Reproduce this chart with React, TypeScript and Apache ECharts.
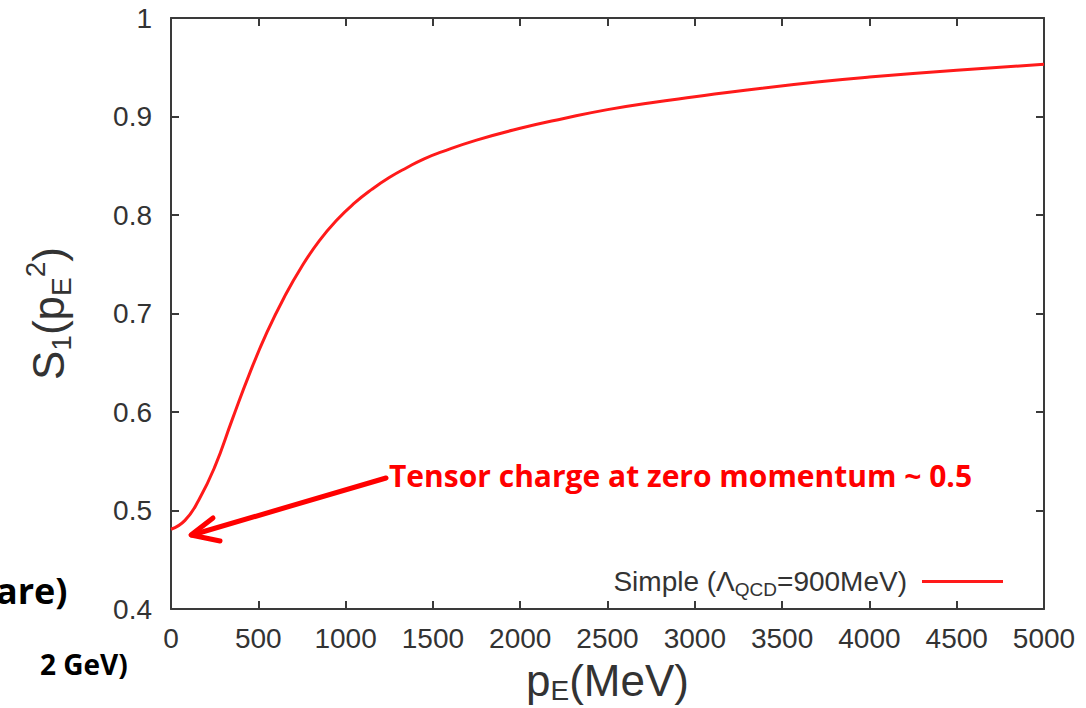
import React, { useEffect, useRef } from "react";
import * as echarts from "echarts";

const momentum = [0, 80, 160, 250, 350, 450, 550, 650, 750, 850, 950, 1050, 1150, 1250, 1350, 1450, 1550, 1750, 2000, 2250, 2500, 2750, 3000, 3300, 3700, 4000, 4500, 5000];
const s1Values = [0.481, 0.49, 0.511, 0.544, 0.592, 0.639, 0.681, 0.717, 0.748, 0.774, 0.795, 0.812, 0.826, 0.838, 0.848, 0.857, 0.864, 0.876, 0.888, 0.898, 0.907, 0.914, 0.92, 0.927, 0.935, 0.94, 0.947, 0.953];
const xTicks = [0, 500, 1000, 1500, 2000, 2500, 3000, 3500, 4000, 4500, 5000];
const yTicks = [0.4, 0.5, 0.6, 0.7, 0.8, 0.9, 1];
const seriesName = "Simple (ΛQCD=900MeV)";
const annotationText = "Tensor charge at zero momentum ~ 0.5";

const AXIS_COLOR = "#3a3a3a";
const LABEL_FONT = "'Liberation Sans', Arial, sans-serif";
const RED = "#ff1a1a";
const BOLD_FONT = "'Open Sans', 'Noto Sans', sans-serif";

function mkLine() {
  return { show: true, onZero: false, lineStyle: { color: AXIS_COLOR, width: 2 } };
}
function mkTick() {
  return { show: true, inside: true, length: 8, lineStyle: { color: AXIS_COLOR, width: 2 } };
}

export default function App() {
  const ref = useRef<HTMLDivElement>(null);
  useEffect(() => {
    if (!ref.current) return;
    const chart = echarts.init(ref.current, null, { renderer: "svg" });
    const data = momentum.map((p, i) => [p, s1Values[i]]);
    const xMin = xTicks[0];
    const xMax = xTicks[xTicks.length - 1];
    const yMin = yTicks[0];
    const yMax = yTicks[yTicks.length - 1];
    chart.setOption({
      animation: false,
      backgroundColor: "#ffffff",
      grid: { left: 171, right: 42, top: 18, bottom: 99, containLabel: false, outerBoundsMode: "none" },
      xAxis: [
        {
          type: "value",
          min: xMin,
          max: xMax,
          interval: 500,
          position: "bottom",
          splitLine: { show: false },
          axisLine: mkLine(),
          axisTick: mkTick(),
          axisLabel: { show: true, color: "#333", fontFamily: LABEL_FONT, fontSize: 28, margin: 15, formatter: (v: number) => String(v) },
          name: "{a|p}{s|E}{a|(MeV)}",
          nameLocation: "middle",
          nameGap: 44,
          nameTextStyle: {
            rich: {
              a: { fontFamily: LABEL_FONT, fontSize: 44, color: "#333", lineHeight: 48 },
              s: { fontFamily: LABEL_FONT, fontSize: 28, color: "#333", lineHeight: 26, padding: [20, 0, 0, 0] },
            },
          },
        },
        {
          type: "value",
          min: xMin,
          max: xMax,
          interval: 500,
          position: "top",
          splitLine: { show: false },
          axisLine: mkLine(),
          axisTick: mkTick(),
          axisLabel: { show: false },
        },
      ],
      yAxis: [
        {
          type: "value",
          min: yMin,
          max: yMax,
          interval: 0.1,
          position: "left",
          splitLine: { show: false },
          axisLine: mkLine(),
          axisTick: mkTick(),
          axisLabel: { show: true, color: "#333", fontFamily: LABEL_FONT, fontSize: 28, margin: 19, formatter: (v: number) => String(+v.toFixed(1)) },
          name: "{a|S}{s|1}{a|(p}{s|E}{p|2}{a|)}",
          nameLocation: "middle",
          nameRotate: 90,
          nameGap: 98,
          nameTextStyle: {
            rich: {
              a: { fontFamily: LABEL_FONT, fontSize: 44, color: "#333", lineHeight: 50 },
              s: { fontFamily: LABEL_FONT, fontSize: 28, color: "#333", lineHeight: 28, padding: [26, 0, 0, 0] },
              p: { fontFamily: LABEL_FONT, fontSize: 28, color: "#333", lineHeight: 28, padding: [0, 0, 26, 0] },
            },
          },
        },
        {
          type: "value",
          min: yMin,
          max: yMax,
          interval: 0.1,
          position: "right",
          splitLine: { show: false },
          axisLine: mkLine(),
          axisTick: mkTick(),
          axisLabel: { show: false },
        },
      ],
      legend: {
        show: true,
        right: 78,
        top: 559,
        align: "right",
        icon: "rect",
        itemWidth: 81,
        itemHeight: 3,
        itemGap: 10,
        formatter: () => "{a|Simple (Λ}{s|QCD}{a|=900MeV)}",
        textStyle: {
          padding: [0, 10, 0, 0],
          rich: {
            a: { fontFamily: LABEL_FONT, fontSize: 28, color: "#333", lineHeight: 30 },
            s: { fontFamily: LABEL_FONT, fontSize: 19, color: "#333", lineHeight: 19, padding: [16, 0, 0, 0] },
          },
        },
      },
      series: [
        {
          name: seriesName,
          type: "line",
          data,
          smooth: 0.5,
          symbol: "none",
          lineStyle: { color: RED, width: 3 },
          itemStyle: { color: RED },
          xAxisIndex: 0,
          yAxisIndex: 0,
        },
      ],
      graphic: [
        {
          type: "text",
          x: 389,
          y: 475,
          style: { text: annotationText, fill: "#ff0000", font: `bold 30px ${BOLD_FONT}`, verticalAlign: "middle" },
        },
        { type: "line", shape: { x1: 386, y1: 478, x2: 192, y2: 535 }, style: { stroke: "#ff0000", lineWidth: 5, lineCap: "round" } },
        { type: "polyline", shape: { points: [[213, 518], [191, 535], [220, 541]] }, style: { stroke: "#ff0000", lineWidth: 5, lineCap: "round", lineJoin: "round", fill: "none" } },
        {
          type: "text",
          x: -4,
          y: 590,
          style: { text: "are)", fill: "#000", font: `bold 36px ${BOLD_FONT}`, verticalAlign: "middle" },
        },
        {
          type: "text",
          x: 40,
          y: 664,
          style: { text: "2 GeV)", fill: "#000", font: `bold 28px ${BOLD_FONT}`, verticalAlign: "middle" },
        },
      ],
    });
    return () => chart.dispose();
  }, []);
  return <div ref={ref} style={{ width: 1086, height: 708, position: "absolute", left: 0, top: 0 }} />;
}
